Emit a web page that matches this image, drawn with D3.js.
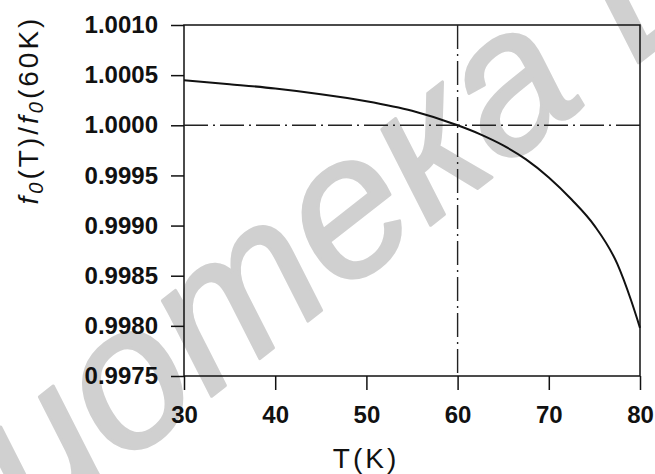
<!DOCTYPE html>
<html>
<head>
<meta charset="utf-8">
<script src="https://cdn.jsdelivr.net/npm/d3@7"></script>
<style>
  body { margin: 0; background: #fff; }
  svg { display: block; font-family: "Liberation Sans", Arial, sans-serif; }
  .tick text { font-weight: bold; font-size: 24px; fill: #111; }
  .tick line { stroke: #111; stroke-width: 1.5; }
</style>
</head>
<body>
<div id="chart"></div>
<script>
// values
const temps = [30, 35, 40, 45, 50, 55, 60, 62.5, 65, 67.5, 70, 72.5, 75, 77.5, 79, 80];
const ratio = [1.00045, 1.00041, 1.000367, 1.00031, 1.00024, 1.000145, 1.00000, 0.99991,
               0.99980, 0.99966, 0.99948, 0.99926, 0.99900, 0.99862, 0.99826, 0.99798];
const xTicks = [30, 40, 50, 60, 70, 80];
const yTicks = [0.9975, 0.9980, 0.9985, 0.9990, 0.9995, 1.0000, 1.0005, 1.0010];
const refT = 60;
const refRatio = 1.0;

const W = 655, H = 474;
const margin = { top: 25, right: 15, bottom: 98, left: 184 };

const svg = d3.select("#chart").append("svg")
  .attr("width", W)
  .attr("height", H);

// watermark behind everything
const wmSize = 200;
const wm = svg.append("text")
  .attr("font-family", "'Liberation Sans', Arial, sans-serif")
  .attr("font-style", "italic")
  .attr("font-size", wmSize)
  .attr("fill", "#d0d0d0")
  .attr("stroke", "#d0d0d0")
  .attr("stroke-width", 3)
  .attr("stroke-linejoin", "round")
  .text("Библиотека БГУИР");
// centre the "о" of the word near the lower-left corner
const ext = wm.node().getExtentOfChar(5);
const cx = ext.x + ext.width / 2;
const cy = -0.27 * wmSize;
wm.attr("transform", `translate(132,390) rotate(-38) translate(${-cx},${-cy})`);

const x = d3.scaleLinear().domain([30, 80]).range([margin.left, W - margin.right]);
const y = d3.scaleLinear().domain([0.9975, 1.0010]).range([H - margin.bottom, margin.top]);

// axes
svg.append("g")
  .attr("transform", `translate(${margin.left},0)`)
  .call(d3.axisLeft(y).tickValues(yTicks).tickSize(13).tickPadding(13).tickFormat(d3.format(".4f")))
  .call(g => g.select(".domain").remove());

svg.append("g")
  .attr("transform", `translate(0,${H - margin.bottom})`)
  .call(d3.axisBottom(x).tickValues(xTicks).tickSize(14).tickPadding(16))
  .call(g => g.select(".domain").remove());

// frame
svg.append("rect")
  .attr("x", x(30))
  .attr("y", y(1.0010))
  .attr("width", x(80) - x(30))
  .attr("height", y(0.9975) - y(1.0010))
  .attr("fill", "none")
  .attr("stroke", "#111")
  .attr("stroke-width", 1.5);

// dash-dot reference lines
svg.append("line")
  .attr("x1", x(30)).attr("x2", x(80))
  .attr("y1", y(refRatio)).attr("y2", y(refRatio))
  .attr("stroke", "#222").attr("stroke-width", 1.4)
  .attr("stroke-dasharray", "24,5,2,5");

svg.append("line")
  .attr("x1", x(refT)).attr("x2", x(refT))
  .attr("y1", y(1.0010)).attr("y2", y(0.9975))
  .attr("stroke", "#222").attr("stroke-width", 1.4)
  .attr("stroke-dasharray", "24,5,2,5");

// curve
const line = d3.line()
  .x((d, i) => x(temps[i]))
  .y(d => y(d))
  .curve(d3.curveMonotoneX);

svg.append("path")
  .datum(ratio)
  .attr("d", line)
  .attr("fill", "none")
  .attr("stroke", "#111")
  .attr("stroke-width", 2);

// axis titles
svg.append("text")
  .attr("x", 366)
  .attr("y", 468)
  .attr("text-anchor", "middle")
  .attr("font-size", 28)
  .attr("letter-spacing", 3)
  .attr("fill", "#111")
  .text("T(K)");

const yl = svg.append("text")
  .attr("transform", "translate(38,110) rotate(-90)")
  .attr("text-anchor", "middle")
  .attr("font-size", 28)
  .attr("letter-spacing", 3)
  .attr("fill", "#111");
yl.append("tspan").attr("font-style", "italic").text("f");
yl.append("tspan").attr("font-style", "italic").attr("font-size", 20).attr("dy", 5).text("0");
yl.append("tspan").attr("dy", -5).text("(T)/");
yl.append("tspan").attr("font-style", "italic").text("f");
yl.append("tspan").attr("font-style", "italic").attr("font-size", 20).attr("dy", 5).text("0");
yl.append("tspan").attr("dy", -5).text("(60K)");
</script>
</body>
</html>
